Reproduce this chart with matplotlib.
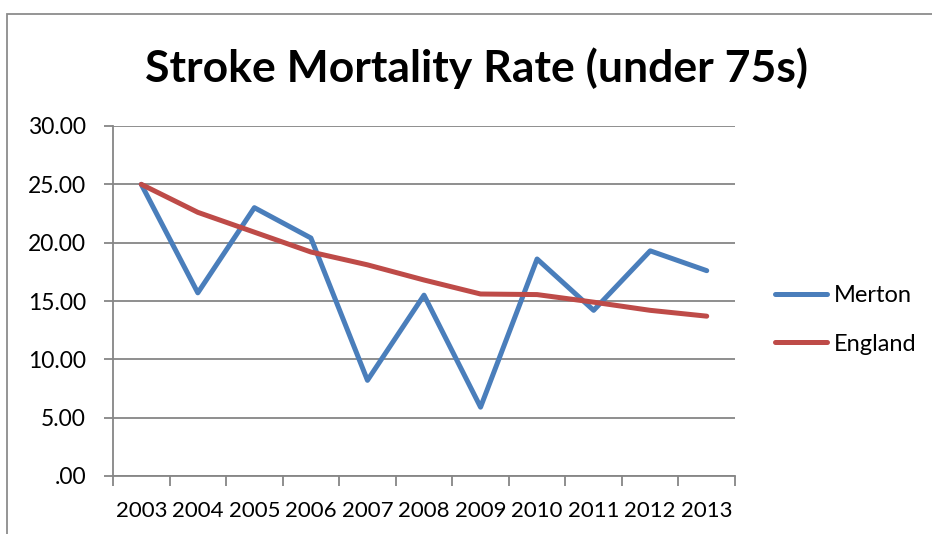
import matplotlib
matplotlib.use("Agg")
import matplotlib.pyplot as plt
from matplotlib.ticker import FuncFormatter, FixedLocator
from matplotlib.lines import Line2D
from matplotlib.patches import Rectangle

years = ["2003", "2004", "2005", "2006", "2007", "2008",
         "2009", "2010", "2011", "2012", "2013"]
merton = [25.0, 15.7, 23.0, 20.4, 8.2, 15.5, 5.9, 18.6, 14.2, 19.3, 17.6]
england = [25.0, 22.6, 20.9, 19.2, 18.1, 16.8, 15.6, 15.55, 14.9, 14.2, 13.7]
series_names = ["Merton", "England"]
title = "Stroke Mortality Rate (under 75s)"

plt.rcParams["font.family"] = ["Lato", "DejaVu Sans"]

W, H = 932, 534
fig = plt.figure(figsize=(W / 100, H / 100), dpi=100)

# chart frame
fig.patches.append(Rectangle((6.5 / W, -0.05), 1.0, (H - 13.5) / H + 0.05,
                             transform=fig.transFigure, fill=False,
                             edgecolor="#8c8c8c", linewidth=1.3))

ax = fig.add_axes([113 / W, (H - 476) / H, 622 / W, 350 / H])
x = list(range(len(years)))

blue = "#4A7EBB"
red = "#BE4B48"
lw = 3.6
ax.plot(x, merton, color=blue, linewidth=lw, solid_capstyle="round", zorder=3)
ax.plot(x, england, color=red, linewidth=lw, solid_capstyle="round", zorder=3)

ax.set_xlim(-0.5, len(years) - 0.5)
ax.set_ylim(0, 30)
ax.set_yticks([0, 5, 10, 15, 20, 25, 30])
ax.yaxis.set_major_formatter(FuncFormatter(
    lambda v, p: ".00" if v == 0 else f"{v:.2f}"))
ax.set_xticks(x)
ax.set_xticklabels(years)
ax.xaxis.set_minor_locator(FixedLocator([i - 0.5 for i in range(len(years) + 1)]))

grid_c = "#868686"
ax.grid(axis="y", color=grid_c, linewidth=1.3)
ax.set_axisbelow(True)
for s in ["top", "right"]:
    ax.spines[s].set_visible(False)
for s in ["left", "bottom"]:
    ax.spines[s].set_color(grid_c)
    ax.spines[s].set_linewidth(1.3)

ax.tick_params(axis="x", which="major", length=0, pad=18, labelsize=16)
ax.tick_params(axis="x", which="minor", length=7, width=1.3, color=grid_c,
               direction="out")
ax.tick_params(axis="y", length=6.5, width=1.3, color=grid_c, pad=13,
               labelsize=16.5)

fig.text(477 / W, 1 - 68 / H, title, ha="center", va="center",
         fontsize=32, fontweight="bold")

handles = [Line2D([], [], color=blue, linewidth=lw, solid_capstyle="round"),
           Line2D([], [], color=red, linewidth=lw, solid_capstyle="round")]
fig.legend(handles, series_names, loc="center left",
           bbox_to_anchor=(775 / W, 1 - 320 / H), frameon=False,
           borderpad=0, borderaxespad=0,
           fontsize=17, handlelength=2.2, handletextpad=0.3,
           labelspacing=1.15)

fig.savefig("out.png", dpi=100)
